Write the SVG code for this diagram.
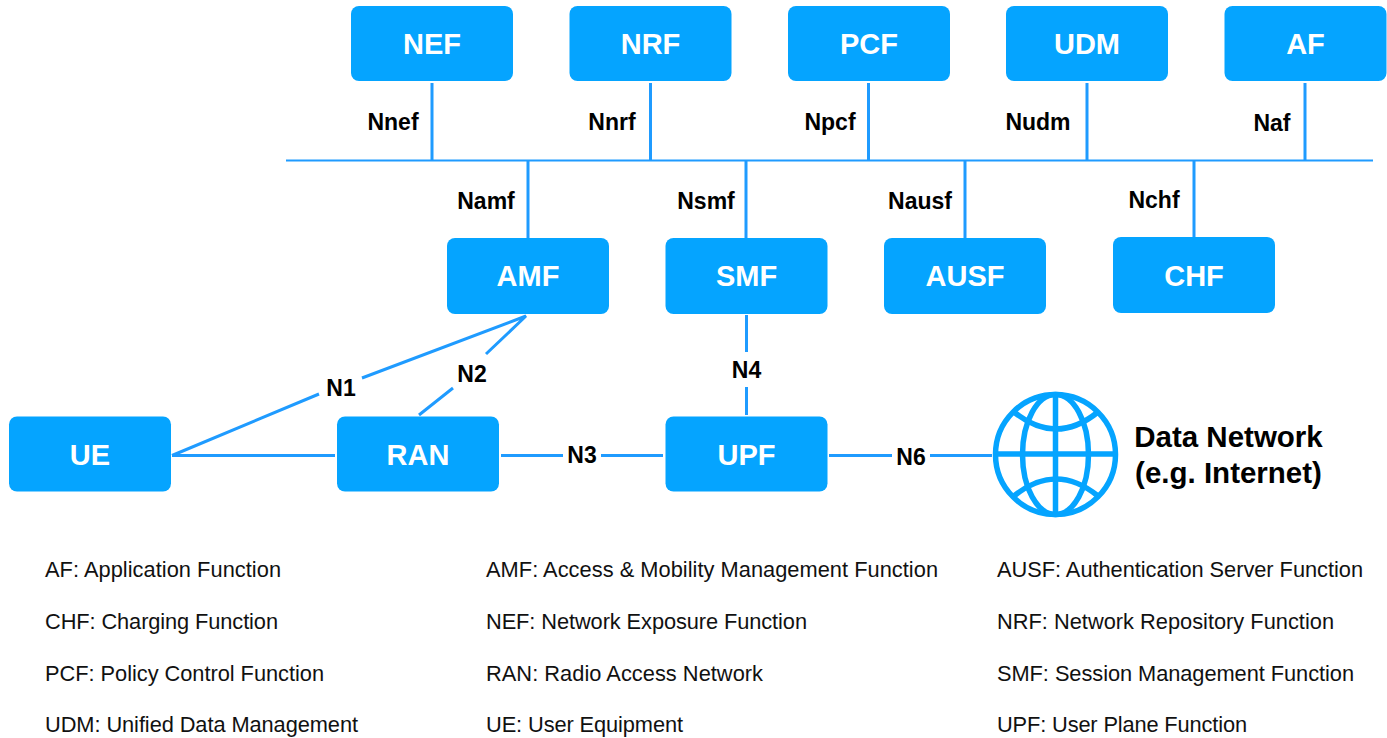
<svg xmlns="http://www.w3.org/2000/svg" width="1387" height="738" viewBox="0 0 1387 738">
<style>
.box{fill:#05a4ff}
.n{font:bold 29px "Liberation Sans",Arial,sans-serif;fill:#fff;text-anchor:middle}
.l{font:bold 23px "Liberation Sans",Arial,sans-serif;fill:#000;text-anchor:middle}
.t{font:21.800px "Liberation Sans",Arial,sans-serif;fill:#111}
.d{font:bold 29.500px "Liberation Sans",Arial,sans-serif;fill:#000;text-anchor:middle}
.c{stroke:#1f9bff;stroke-width:3;fill:none}
.g{stroke:#05a4ff;stroke-width:5.500;fill:none}
</style>
<rect width="1387" height="738" fill="#fff"/>
<g id="connectors" class="c">
<path d="M286 160.500H1373" stroke-width="2"/>
<path d="M432 83V160M650.500 83V160M868.500 83V160M1087 83V160M1305 83V160"/>
<path d="M528 161V238M746 161V238M965 161V238M1194 161V237"/>
<path d="M746.500 315V352M746.500 387V415"/>
<path d="M172 455.500L319 394M362 378L526 316L486 354M453 388L419 415"/>
<path d="M172 455.500H335M501 455.500H563M601 455.500H663M829 455.500H892M930 455.500H992"/>
</g>
<g id="NEF"><rect class="box" x="351" y="6" width="162" height="75" rx="8"/><text class="n" x="432" y="54">NEF</text></g>
<g id="NRF"><rect class="box" x="569.500" y="6" width="162" height="75" rx="8"/><text class="n" x="650.500" y="54">NRF</text></g>
<g id="PCF"><rect class="box" x="788" y="6" width="162" height="75" rx="8"/><text class="n" x="869" y="54">PCF</text></g>
<g id="UDM"><rect class="box" x="1006" y="6" width="162" height="75" rx="8"/><text class="n" x="1087" y="54">UDM</text></g>
<g id="AF"><rect class="box" x="1224.500" y="6" width="162" height="75" rx="8"/><text class="n" x="1305.500" y="54">AF</text></g>
<g id="AMF"><rect class="box" x="447" y="238" width="162" height="76" rx="8"/><text class="n" x="528" y="286">AMF</text></g>
<g id="SMF"><rect class="box" x="665.500" y="238" width="162" height="76" rx="8"/><text class="n" x="746.500" y="286">SMF</text></g>
<g id="AUSF"><rect class="box" x="884" y="238" width="162" height="76" rx="8"/><text class="n" x="965" y="286">AUSF</text></g>
<g id="CHF"><rect class="box" x="1113" y="237" width="162" height="76" rx="8"/><text class="n" x="1194" y="286">CHF</text></g>
<g id="UE"><rect class="box" x="9" y="416.500" width="162" height="75" rx="8"/><text class="n" x="90" y="465">UE</text></g>
<g id="RAN"><rect class="box" x="337" y="416.500" width="162" height="75" rx="8"/><text class="n" x="418" y="465">RAN</text></g>
<g id="UPF"><rect class="box" x="665.500" y="416.500" width="162" height="75" rx="8"/><text class="n" x="746.500" y="465">UPF</text></g>
<g id="DataNetwork">
<g class="g">
<circle cx="1055.500" cy="454.500" r="60"/>
<ellipse cx="1055.500" cy="454.500" rx="33" ry="60"/>
<path d="M1055.500 394.500V514.500M995.500 454H1115.500"/>
<path d="M1014 412Q1056 446 1098 412M1014 496Q1056 462 1098 496"/>
</g>
<text class="d" x="1228.500" y="447">Data Network</text>
<text class="d" x="1228.500" y="483">(e.g. Internet)</text>
</g>
<g id="labels">
<text class="l" x="393" y="130">Nnef</text>
<text class="l" x="612" y="130">Nnrf</text>
<text class="l" x="830" y="130">Npcf</text>
<text class="l" x="1038" y="130">Nudm</text>
<text class="l" x="1272" y="131">Naf</text>
<text class="l" x="486" y="209">Namf</text>
<text class="l" x="706" y="209">Nsmf</text>
<text class="l" x="920" y="209">Nausf</text>
<text class="l" x="1154" y="208">Nchf</text>
<text class="l" x="341" y="396">N1</text>
<text class="l" x="472" y="382">N2</text>
<text class="l" x="582" y="463">N3</text>
<text class="l" x="746.500" y="378">N4</text>
<text class="l" x="911" y="465">N6</text>
</g>
<g id="legend">
<text class="t" x="45" y="577" textLength="236">AF: Application Function</text>
<text class="t" x="486" y="577" textLength="452">AMF: Access &amp; Mobility Management Function</text>
<text class="t" x="997" y="577" textLength="366">AUSF: Authentication Server Function</text>
<text class="t" x="45" y="629" textLength="233">CHF: Charging Function</text>
<text class="t" x="486" y="629" textLength="321">NEF: Network Exposure Function</text>
<text class="t" x="997" y="629" textLength="337">NRF: Network Repository Function</text>
<text class="t" x="45" y="681" textLength="279">PCF: Policy Control Function</text>
<text class="t" x="486" y="681" textLength="277">RAN: Radio Access Network</text>
<text class="t" x="997" y="681" textLength="357">SMF: Session Management Function</text>
<text class="t" x="45" y="732" textLength="313">UDM: Unified Data Management</text>
<text class="t" x="486" y="732" textLength="197">UE: User Equipment</text>
<text class="t" x="997" y="732" textLength="250">UPF: User Plane Function</text>
</g>
</svg>
